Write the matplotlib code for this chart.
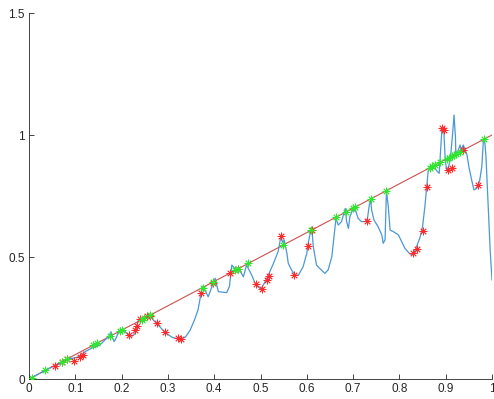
import matplotlib
matplotlib.use("Agg")
import matplotlib.pyplot as plt

# signal trace
sig_x = [0.0, 0.03, 0.05, 0.06, 0.075, 0.085, 0.095, 0.105, 0.115, 0.121, 0.135,
         0.153, 0.164, 0.173, 0.177, 0.18, 0.184, 0.189, 0.194, 0.204, 0.211,
         0.215, 0.223, 0.229, 0.233, 0.236, 0.243, 0.252, 0.261, 0.268, 0.276,
         0.294, 0.31, 0.326, 0.338, 0.348, 0.358, 0.365, 0.373, 0.376, 0.387,
         0.402, 0.409, 0.427, 0.433, 0.438, 0.447, 0.455, 0.463, 0.47, 0.481,
         0.49, 0.501, 0.51, 0.517, 0.528, 0.538, 0.544, 0.548, 0.551, 0.557,
         0.56, 0.567, 0.575, 0.582, 0.592, 0.6, 0.603, 0.608, 0.611, 0.614,
         0.621, 0.628, 0.639, 0.646, 0.654, 0.661, 0.663, 0.668, 0.675, 0.68,
         0.683, 0.686, 0.69, 0.693, 0.699, 0.706, 0.711, 0.718, 0.726, 0.731,
         0.735, 0.738, 0.74, 0.745, 0.754, 0.762, 0.765, 0.769, 0.771, 0.772,
         0.776, 0.78, 0.787, 0.798, 0.812, 0.823, 0.83, 0.837, 0.845, 0.85,
         0.855, 0.859, 0.862, 0.866, 0.877, 0.882, 0.886, 0.889, 0.892, 0.896,
         0.899, 0.902, 0.906, 0.91, 0.915, 0.918, 0.921, 0.922, 0.926, 0.931,
         0.934, 0.938, 0.942, 0.946, 0.95, 0.956, 0.961, 0.967, 0.973, 0.978,
         0.981, 0.984, 0.987, 0.992, 0.996, 1.0]
sig_y = [0.0, 0.03, 0.05, 0.056, 0.072, 0.083, 0.085, 0.09, 0.1, 0.112, 0.126,
         0.139, 0.16, 0.176, 0.194, 0.171, 0.153, 0.171, 0.198, 0.203, 0.187,
         0.178, 0.176, 0.187, 0.221, 0.24, 0.249, 0.255, 0.262, 0.242, 0.228,
         0.19, 0.17, 0.163, 0.172, 0.2, 0.245, 0.283, 0.365, 0.381, 0.337,
         0.413, 0.358, 0.354, 0.38, 0.467, 0.447, 0.447, 0.419, 0.467, 0.426,
         0.385, 0.368, 0.399, 0.426, 0.474, 0.522, 0.583, 0.56, 0.57, 0.515,
         0.474, 0.447, 0.426, 0.426, 0.46, 0.515, 0.556, 0.604, 0.617, 0.542,
         0.467, 0.453, 0.433, 0.447, 0.501, 0.624, 0.658, 0.631, 0.645, 0.679,
         0.699, 0.645, 0.617, 0.665, 0.693, 0.686, 0.658, 0.645, 0.645, 0.658,
         0.713, 0.734, 0.693, 0.652, 0.624, 0.59, 0.556, 0.57, 0.706, 0.772,
         0.706, 0.61, 0.604, 0.59, 0.535, 0.512, 0.512, 0.542, 0.583, 0.624,
         0.706, 0.788, 0.85, 0.87, 0.863, 0.85, 0.843, 0.939, 1.027, 1.013,
         0.898, 0.857, 0.87, 0.9, 1.007, 1.082, 0.993, 0.911, 0.93, 0.959,
         0.939, 0.959, 0.939, 0.918, 0.87, 0.816, 0.775, 0.781, 0.809, 0.87,
         0.966, 0.982, 0.911, 0.693, 0.529, 0.406]

# points off the diagonal
red_x = [0.056, 0.071, 0.081, 0.097, 0.11, 0.116, 0.215, 0.229, 0.233, 0.24,
         0.254, 0.261, 0.276, 0.294, 0.322, 0.328, 0.371, 0.397, 0.434, 0.451,
         0.49, 0.503, 0.515, 0.519, 0.544, 0.573, 0.602, 0.611, 0.729, 0.829,
         0.837, 0.85, 0.86, 0.893, 0.896, 0.906, 0.913, 0.937, 0.97]
red_y = [0.055, 0.071, 0.08, 0.075, 0.091, 0.098, 0.18, 0.2, 0.217, 0.246,
         0.258, 0.26, 0.231, 0.191, 0.167, 0.165, 0.354, 0.395, 0.436, 0.449,
         0.389, 0.369, 0.406, 0.423, 0.587, 0.426, 0.546, 0.611, 0.648, 0.515,
         0.531, 0.607, 0.785, 1.027, 1.02, 0.857, 0.863, 0.939, 0.795]

# points on the diagonal
green_x = [0.006, 0.035, 0.071, 0.081, 0.139, 0.146, 0.175, 0.197, 0.2, 0.243,
           0.248, 0.261, 0.375, 0.398, 0.445, 0.452, 0.474, 0.548, 0.609, 0.663,
           0.685, 0.699, 0.704, 0.738, 0.772, 0.866, 0.871, 0.876, 0.888, 0.902,
           0.907, 0.913, 0.918, 0.923, 0.931, 0.983]

diag = [0, 1]

fig = plt.figure(figsize=(4.94, 3.99), dpi=100)
ax = fig.add_axes([29 / 494, 20 / 399, 463 / 494, 366 / 399])

ax.plot(diag, diag, color="#cc5050", lw=0.8, zorder=2)
ax.plot(sig_x, sig_y, color="#4a98d4", lw=0.9, zorder=3)
ax.plot(red_x, red_y, ls="none", marker=(8, 2, 0), ms=5.5, mew=0.6,
        color="#ff2a2a", zorder=4)
ax.plot(green_x, green_x, ls="none", marker=(8, 2, 0), ms=5.5, mew=0.6,
        color="#2ee62e", zorder=5)

ax.set_xlim(0, 1)
ax.set_ylim(0, 1.5)
ax.set_xticks([0, 0.1, 0.2, 0.3, 0.4, 0.5, 0.6, 0.7, 0.8, 0.9, 1])
ax.set_xticklabels(["0", "0.1", "0.2", "0.3", "0.4", "0.5", "0.6", "0.7", "0.8", "0.9", "1"])
ax.set_yticks([0, 0.5, 1, 1.5])
ax.set_yticklabels(["0", "0.5", "1", "1.5"])

for side in ["top", "right"]:
    ax.spines[side].set_visible(False)
for side in ["left", "bottom"]:
    ax.spines[side].set_color("#262626")
    ax.spines[side].set_linewidth(0.6)
ax.tick_params(direction="in", length=3.5, width=0.6, colors="#262626",
               labelsize=8.5, pad=3)
for lbl in ax.get_xticklabels() + ax.get_yticklabels():
    lbl.set_family("Liberation Sans")

fig.savefig("out.png", dpi=100)
